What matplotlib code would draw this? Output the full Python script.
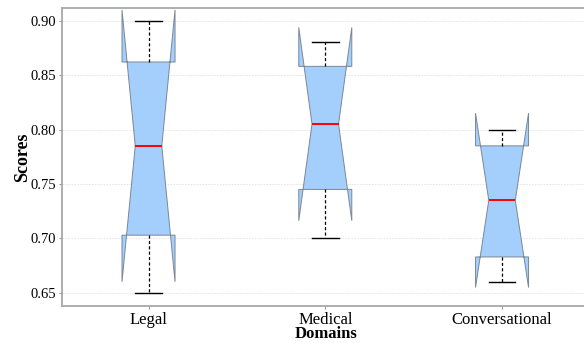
import numpy as np
import matplotlib
matplotlib.use('Agg')
import matplotlib.pyplot as plt

# ── DATA ─────────────────────────────────────────────────────────────────────
DOMAINS  = ["Legal", "Medical", "Conversational"]
MEDIANS  = [0.785, 0.805, 0.735]
Q1       = [0.703, 0.745, 0.683]
Q3       = [0.862, 0.858, 0.785]
WHIS_LO  = [0.650, 0.700, 0.660]
WHIS_HI  = [0.900, 0.880, 0.800]
N_RUNS   = 4
YTICKS   = [0.65, 0.70, 0.75, 0.80, 0.85, 0.90]

plt.rcParams['font.family'] = ['Liberation Serif', 'DejaVu Serif']

# build stats for bxp; notch = median +/- 1.57*IQR/sqrt(n)
stats = []
for name, med, q1, q3, lo, hi in zip(DOMAINS, MEDIANS, Q1, Q3, WHIS_LO, WHIS_HI):
    half = 1.57 * (q3 - q1) / np.sqrt(N_RUNS)
    stats.append(dict(label=name, med=med, q1=q1, q3=q3,
                      whislo=lo, whishi=hi, cilo=med - half, cihi=med + half,
                      fliers=[]))

fig = plt.figure(figsize=(5.84, 3.43), dpi=100)
ax = fig.add_axes([0.106, 0.108, 0.905, 0.870])

ax.bxp(stats, positions=[1, 2, 3], widths=0.30, shownotches=True,
       patch_artist=True, showfliers=False,
       boxprops=dict(facecolor='#a4cffc', edgecolor='#7a8796', linewidth=0.7),
       medianprops=dict(color='red', linewidth=1.4),
       whiskerprops=dict(color='black', linestyle=(0, (2.5, 1.8)), linewidth=0.9),
       capprops=dict(color='black', linewidth=1.0))

ax.set_xlim(0.51, 3.5)
ax.set_ylim(0.638, 0.912)
ax.set_yticks(YTICKS)
ax.set_yticklabels([f"{v:.2f}" for v in YTICKS], fontsize=10.5)
ax.set_xticks([1, 2, 3])
ax.set_xticklabels(DOMAINS, fontsize=12)
ax.tick_params(axis='both', length=2, color='#999999', pad=2)

ax.yaxis.grid(True, color='#e0e0e0', linestyle=(0, (2, 1.5)), linewidth=0.6)
ax.set_axisbelow(True)
for sp in ax.spines.values():
    sp.set_color('#a8a8a8')
    sp.set_linewidth(1.3)

ax.set_ylabel("Scores", fontsize=13, fontweight='bold')
ax.yaxis.set_label_coords(-0.058, 0.5)
ax.set_xlabel("Domains", fontsize=12, fontweight='bold', labelpad=-1)

plt.savefig("out.png", dpi=100)
